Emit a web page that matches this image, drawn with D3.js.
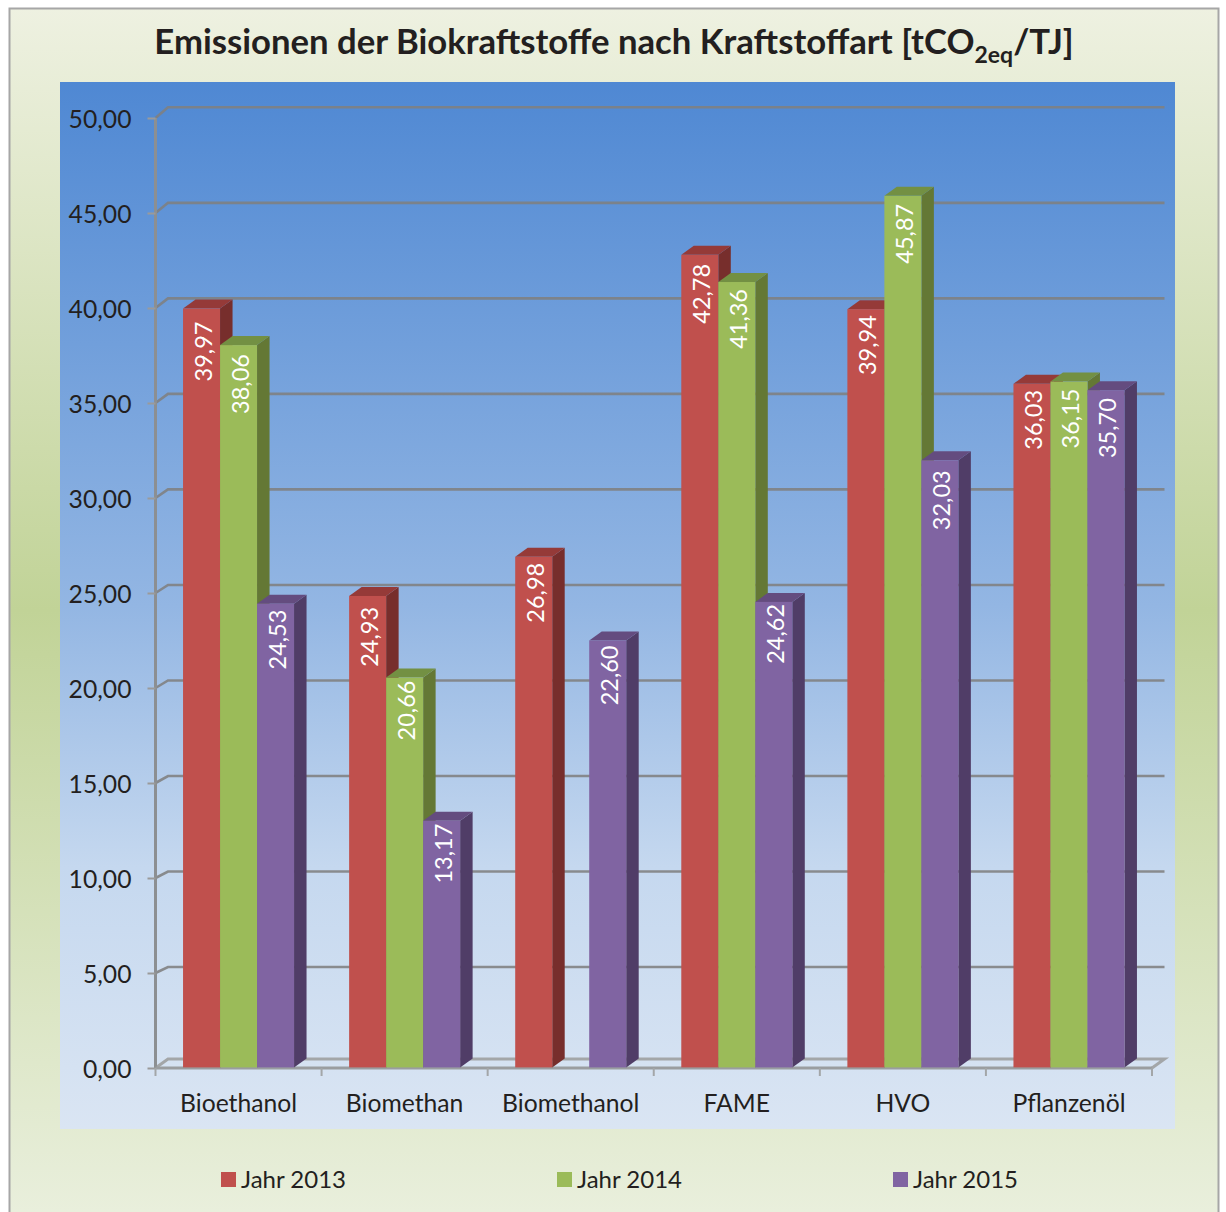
<!DOCTYPE html>
<html>
<head>
<meta charset="utf-8">
<script src="https://cdn.jsdelivr.net/npm/d3@7"></script>
<style>
html,body{margin:0;padding:0;background:#fff;}
svg{display:block;}
text{font-family:Lato,"Open Sans",sans-serif;fill:#231f20;}
.title{font-weight:700;font-size:34.7px;}
.tick text{font-size:24.7px;}
.barLabel{font-size:23.5px;fill:#fff;}
.legendText{font-size:24px;}
</style>
</head>
<body>
<svg id="chart"></svg>
<script>
var categories = ["Bioethanol","Biomethan","Biomethanol","FAME","HVO","Pflanzenöl"];
var seriesNames = ["Jahr 2013","Jahr 2014","Jahr 2015"];
var values2013 = [39.97,24.93,26.98,42.78,39.94,36.03];
var values2014 = [38.06,20.66,null,41.36,45.87,36.15];
var values2015 = [24.53,13.17,22.60,24.62,32.03,35.70];
var yTicks = [0,5,10,15,20,25,30,35,40,45,50];

var seriesValues = [values2013,values2014,values2015];

//front, side and top colours of each series
var barColors = [
    {front:"#c0504d",side:"#772e2c",top:"#953a38"},
    {front:"#9bbb59",side:"#647835",top:"#739043"},
    {front:"#8064a2",side:"#503d67",top:"#644c7f"}
];

//gap between the bar top and the end of its label, per series and category
var labelGaps = [
    [13,11,6,9,6,6],
    [9,3,0,7,8,7],
    [6,3,5,2,10,8]
];

var screen = {width:1226,height:1212};
var plotBox = {left:60,right:1175,top:82,bottom:1129};
var axisBox = {left:155.5,right:1152,top:118,bottom:1068};
var depth = {x:12.5,y:9};

var svg = d3.select("#chart")
    .attr("width",screen.width)
    .attr("height",screen.height);

var defs = svg.append("defs");

var addGradient = function(id,stops)
{
    defs.append("linearGradient")
        .attr("id",id)
        .attr("gradientUnits","userSpaceOnUse")
        .attr("x1",0).attr("y1",stops.from).attr("x2",0).attr("y2",stops.to)
        .selectAll("stop")
        .data(stops.colors)
        .enter()
        .append("stop")
        .attr("offset",function(s){return s[0];})
        .attr("stop-color",function(s){return s[1];});
}

addGradient("frameFill",{from:8,to:1212,colors:[[0,"#eef1e1"],[0.5,"#c1d397"],[1,"#e9efdc"]]});
addGradient("plotFill",{from:82,to:1129,colors:[[0,"#4f88d3"],[0.5,"#93b6e3"],[0.75,"#c5d8ef"],[1,"#dae5f3"]]});

//frame, the bottom edge runs off the picture
svg.append("rect")
    .attr("x",9.5).attr("y",8.5)
    .attr("width",1209).attr("height",1240)
    .attr("fill","url(#frameFill)")
    .attr("stroke","#a6a6a6")
    .attr("stroke-width",2);

svg.append("rect")
    .attr("x",plotBox.left).attr("y",plotBox.top)
    .attr("width",plotBox.right-plotBox.left)
    .attr("height",plotBox.bottom-plotBox.top)
    .attr("fill","url(#plotFill)");

var xScale = d3.scaleBand()
    .domain(categories)
    .range([axisBox.left,axisBox.right]);

//tick labels on the front edge
var yScale = d3.scaleLinear()
    .domain([0,50])
    .range([axisBox.bottom,axisBox.top]);

//the picture is a 3d projection, the bar tops and the back wall run a bit steeper than the axis
var barY = d3.scaleLinear()
    .domain([0,50])
    .range([1072.4,116.9]);

var wallY = d3.scaleLinear()
    .domain([0,50])
    .range([1062.6,107.3]);

var barScale = d3.scaleBand()
    .domain(seriesNames)
    .range([-55.5,55.5]);

var locale = d3.formatLocale({decimal:",",thousands:".",grouping:[3],currency:["","€"]});
var numberFormat = locale.format(".2f");

//gridlines on the back wall with the slant back from the axis
svg.append("g")
    .selectAll("path")
    .data(yTicks.slice(1))
    .enter()
    .append("path")
    .attr("d",function(t)
    {
        return "M"+axisBox.left+","+yScale(t)+
               "L"+(axisBox.left+depth.x)+","+wallY(t)+
               "H"+(axisBox.right+depth.x);
    })
    .attr("fill","none")
    .attr("stroke","#7f7f7f")
    .attr("stroke-opacity",0.88)
    .attr("stroke-width",2.6);

//floor
svg.append("path")
    .attr("d","M"+axisBox.left+","+axisBox.bottom+
              "L"+(axisBox.left+depth.x)+","+(axisBox.bottom-depth.y)+
              "H"+(axisBox.right+depth.x)+
              "L"+axisBox.right+","+axisBox.bottom)
    .attr("fill","none")
    .attr("stroke","#a3a6a8")
    .attr("stroke-width",3);

//axes
var yAxis = d3.axisLeft(yScale)
    .tickValues(yTicks)
    .tickFormat(numberFormat)
    .tickSize(8)
    .tickPadding(16);

var xAxis = d3.axisBottom(xScale)
    .tickSize(0)
    .tickPadding(26);

var axes = svg.append("g");

var yGroup = axes.append("g")
    .attr("transform","translate("+axisBox.left+",0)")
    .call(yAxis);

var xGroup = axes.append("g")
    .attr("transform","translate(0,"+axisBox.bottom+")")
    .call(xAxis);

yGroup.selectAll(".tick text").attr("dy","0.37em");

yGroup.select(".domain")
    .attr("stroke","#8c8f92")
    .attr("stroke-width",3)
    .attr("d","M0,"+axisBox.top+"V"+axisBox.bottom);
yGroup.selectAll(".tick line").attr("stroke","#9a9a9a").attr("stroke-width",2);

xGroup.select(".domain")
    .attr("stroke","#9a9da0")
    .attr("stroke-width",3)
    .attr("d","M"+axisBox.left+",0H"+axisBox.right);

//category separators sit between the bands, not on the labels
xGroup.selectAll(".sep")
    .data(categories.concat("end"))
    .enter()
    .append("line")
    .attr("class","sep")
    .attr("x1",function(c,i){return axisBox.left+i*xScale.step();})
    .attr("x2",function(c,i){return axisBox.left+i*xScale.step();})
    .attr("y1",0)
    .attr("y2",8)
    .attr("stroke","#a3a6a8")
    .attr("stroke-width",2);

//bars, series by series so each front covers the side of the one before
var bars = svg.append("g");
var barFloor = axisBox.bottom-0.6;

seriesNames.forEach(function(name,s)
{
    var color = barColors[s];
    var w = barScale.bandwidth();
    var rows = categories
        .map(function(c,i){return {category:c,value:seriesValues[s][i]};})
        .filter(function(d){return d.value!==null;});

    var barX = function(d)
    {
        return xScale(d.category)+xScale.bandwidth()/2+barScale(name);
    }

    var group = bars.append("g");

    var each = group.selectAll("g")
        .data(rows)
        .enter()
        .append("g");

    //side face
    each.append("path")
        .attr("d",function(d)
        {
            var x = barX(d)+w;
            var y = barY(d.value);
            return "M"+x+","+y+"l"+depth.x+","+(-depth.y)+
                   "V"+(barFloor-depth.y)+"L"+x+","+barFloor+"Z";
        })
        .attr("fill",color.side);

    //top face
    each.append("path")
        .attr("d",function(d)
        {
            var x = barX(d);
            var y = barY(d.value);
            return "M"+x+","+y+"l"+depth.x+","+(-depth.y)+"h"+w+
                   "l"+(-depth.x)+","+depth.y+"Z";
        })
        .attr("fill",color.top);

    //front face
    each.append("rect")
        .attr("x",barX)
        .attr("y",function(d){return barY(d.value);})
        .attr("width",w)
        .attr("height",function(d){return barFloor-barY(d.value);})
        .attr("fill",color.front);
});

//data labels go on last, over every bar
seriesNames.forEach(function(name,s)
{
    var rows = categories
        .map(function(c,i){return {category:c,value:seriesValues[s][i],gap:labelGaps[s][i]};})
        .filter(function(d){return d.value!==null;});

    svg.append("g")
        .selectAll("text")
        .data(rows)
        .enter()
        .append("text")
        .classed("barLabel",true)
        .attr("text-anchor","end")
        .attr("dominant-baseline","central")
        .attr("transform",function(d)
        {
            var x = xScale(d.category)+xScale.bandwidth()/2+barScale(name)+barScale.bandwidth()/2+1;
            return "translate("+x+","+(barY(d.value)+d.gap)+") rotate(-90)";
        })
        .text(function(d){return numberFormat(d.value);});
});

//title
var title = svg.append("text")
    .classed("title",true)
    .attr("x",614)
    .attr("y",54)
    .attr("text-anchor","middle");
title.append("tspan").text("Emissionen der Biokraftstoffe nach Kraftstoffart [tCO");
title.append("tspan").attr("font-size","23px").attr("dy",9).text("2eq");
title.append("tspan").attr("dy",-9).text("/TJ]");

//legend
var legendScale = d3.scalePoint()
    .domain(seriesNames)
    .range([221,893]);

var legend = svg.append("g")
    .selectAll("g")
    .data(seriesNames)
    .enter()
    .append("g")
    .attr("transform",function(n){return "translate("+legendScale(n)+",1172)";});

legend.append("rect")
    .attr("width",15)
    .attr("height",15)
    .attr("fill",function(n,i){return barColors[i].front;});

legend.append("text")
    .classed("legendText",true)
    .attr("x",20)
    .attr("y",16)
    .text(function(n){return n;});
</script>
</body>
</html>
